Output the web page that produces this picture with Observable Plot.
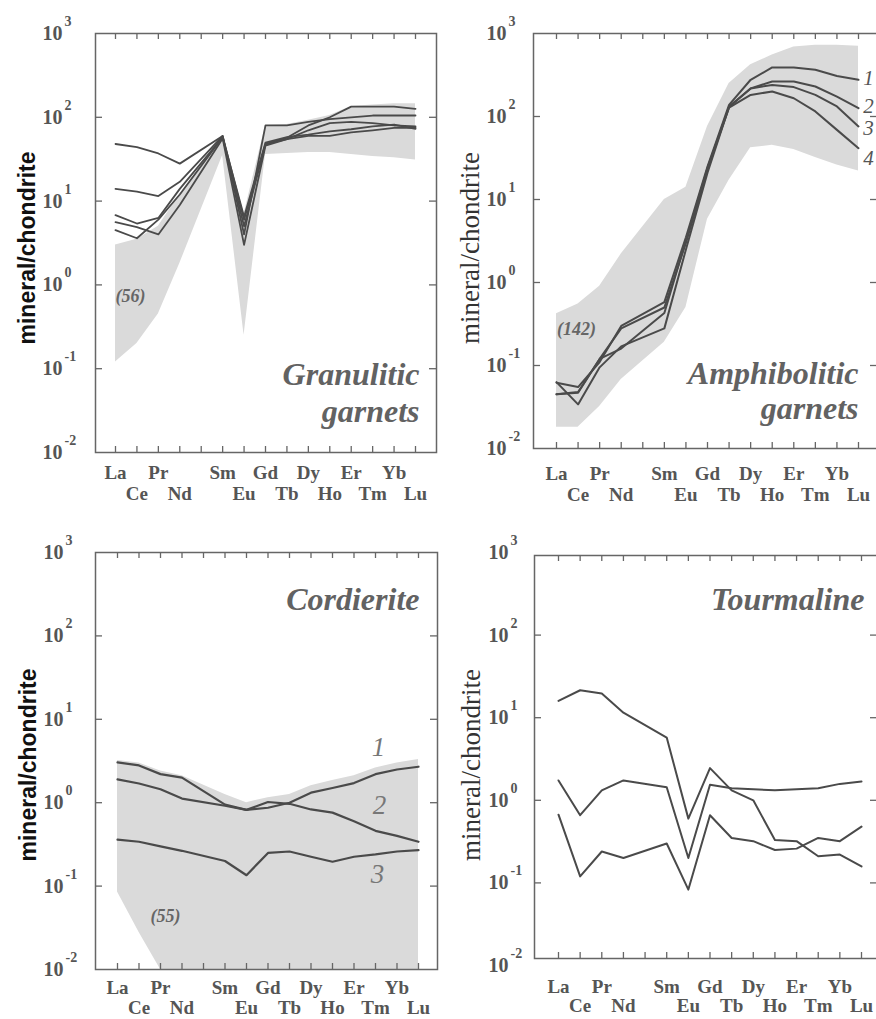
<!DOCTYPE html>
<html>
<head>
<meta charset="utf-8">
<script src="https://cdn.jsdelivr.net/npm/d3@7"></script>
<script src="https://cdn.jsdelivr.net/npm/@observablehq/plot@0.6"></script>
<style>
  html, body { margin: 0; padding: 0; background: #fff; overflow: hidden; }
  #root { position: relative; width: 876px; height: 1019px; overflow: hidden; background: #fff; }
  .panel { position: absolute; }
  .panel svg { max-width: none; overflow: visible; }
  g[aria-label="panel-title"] text { letter-spacing: 2px; }
  g[aria-label="ree-label"] text { letter-spacing: 1.2px; }
</style>
</head>
<body>
<div id="root"></div>
<script>
// ---------------- data ----------------
const ree = ["La","Ce","Pr","Nd","Pm","Sm","Eu","Gd","Tb","Dy","Ho","Er","Tm","Yb","Lu"];
const measured = ["La","Ce","Pr","Nd","Sm","Eu","Gd","Tb","Dy","Ho","Er","Tm","Yb","Lu"];
const labelRow1 = ["La","Pr","Sm","Gd","Dy","Er","Yb"];
const labelRow2 = ["Ce","Nd","Eu","Tb","Ho","Tm","Lu"];
const decades = [0.01, 0.1, 1, 10, 100, 1000];
const decadeExp = ["-2", "-1", "0", "1", "2", "3"];
const innerDecades = [0.1, 1, 10, 100];

// Granulitic garnets (56 analyses): envelope and individual patterns
const granLow  = [0.12, 0.2, 0.45, 1.8, 35, 0.25, 36, 37, 38, 38, 36, 34, 33, 31];
const granHigh = [3, 3.5, 5, 12, 58, 7, 80, 82, 92, 105, 135, 140, 145, 145];
const granA = [48, 44, 37, 28, 60, 6, 48, 57, 80, 100, 134, 134, 134, 126];
const granB = [14, 13, 11.5, 17, 60, 4, 80, 80, 88, 95, 100, 105, 105, 105];
const granC = [6.8, 5.4, 6.3, 14, 58, 5, 48, 55, 70, 85, 88, 85, 80, 78];
const granD = [5.6, 4.9, 4.0, 9, 56, 3, 46, 55, 60, 60, 66, 70, 75, 75];
const granE = [4.5, 3.6, 6, 12, 58, 6.5, 50, 58, 62, 68, 72, 78, 82, 73];

// Amphibolitic garnets (142 analyses)
const amphLow  = [0.018, 0.018, 0.032, 0.068, 0.19, 0.5, 5.8, 17, 42, 45, 40, 32, 26, 22];
const amphHigh = [0.42, 0.55, 0.9, 2.2, 10, 14, 76, 250, 420, 550, 690, 720, 720, 700];
const amph1 = [0.062, 0.055, 0.11, 0.3, 0.58, 3.5, 25, 138, 277, 390, 390, 365, 307, 277];
const amph2 = [0.045, 0.047, 0.12, 0.28, 0.5, 3, 23, 132, 218, 264, 264, 230, 174, 126];
const amph3 = [0.063, 0.034, 0.095, 0.17, 0.28, 2.5, 21, 130, 218, 240, 226, 182, 132, 76];
const amph4 = [0.045, 0.048, 0.12, 0.16, 0.43, 3.2, 24, 128, 182, 200, 166, 115, 69, 41.5];
const amphNames = ["1", "2", "3", "4"];

// Cordierite (55 analyses)
const cordLow  = [0.085, 0.028, 0.01, 0.01, 0.01, 0.01, 0.01, 0.01, 0.01, 0.01, 0.01, 0.01, 0.01, 0.01];
const cordHigh = [3.2, 3.0, 2.4, 2.1, 1.25, 1.0, 1.15, 1.25, 1.6, 1.85, 2.1, 2.6, 3.0, 3.3];
const cord1 = [3.05, 2.8, 2.2, 2.0, 0.95, 0.82, 0.87, 1.0, 1.32, 1.5, 1.72, 2.2, 2.5, 2.7];
const cord2 = [1.9, 1.7, 1.45, 1.12, 0.92, 0.82, 1.02, 0.97, 0.83, 0.76, 0.6, 0.46, 0.4, 0.34];
const cord3 = [0.36, 0.34, 0.3, 0.265, 0.2, 0.135, 0.25, 0.26, 0.225, 0.196, 0.225, 0.24, 0.26, 0.27];
const cordNames = ["1", "2", "3"];

// Tourmaline
const tour1 = [16, 21.5, 19.6, 11.5, 5.75, 0.6, 2.45, 1.32, 1.0, 0.33, 0.32, 0.21, 0.22, 0.158];
const tour2 = [1.74, 0.66, 1.32, 1.74, 1.44, 0.2, 1.54, 1.4, 1.36, 1.32, 1.36, 1.4, 1.58, 1.69];
const tour3 = [0.67, 0.12, 0.24, 0.2, 0.3, 0.083, 0.66, 0.35, 0.32, 0.25, 0.26, 0.35, 0.32, 0.48];

// ---------------- helpers ----------------
const SERIF = "'Liberation Serif', 'Times New Roman', serif";
const SANS = "'Liberation Sans', Arial, sans-serif";
const INK = "#555";
const LINE = "#4a4a4a";
const SHADE = "#dadada";

const xi = e => ree.indexOf(e);
function lineRows(list) {
  return list.flatMap((vals, s) => measured.map((e, i) => ({x: xi(e), y: vals[i], s})));
}
function envRows(lo, hi) {
  return measured.map((e, i) => ({x: xi(e), lo: lo[i], hi: hi[i]}));
}
function note(t, dx, dy, size, opts = {}) {
  return Plot.text([t], {frameAnchor: "top-left", textAnchor: "middle", lineAnchor: "middle", dx, dy,
    fontFamily: SERIF, fontSize: size, fontStyle: "italic", fill: "#666", ...opts});
}

function panel(cfg) {
  const {left, top, width, height, fl, fr, ft, fb, xr, yr} = cfg;
  const H = fb - ft, W = fr - fl;
  const marks = [];
  if (cfg.env) marks.push(Plot.areaY(envRows(cfg.env[0], cfg.env[1]), {x: "x", y1: "lo", y2: "hi", fill: SHADE, curve: "linear"}));
  marks.push(Plot.line(lineRows(cfg.series), {x: "x", y: "y", z: "s", stroke: LINE, strokeWidth: cfg.lw || 2, strokeLinejoin: "round"}));
  marks.push(Plot.frame({stroke: "#666", strokeWidth: 1.5}));
  const idx = ree.map((d, i) => i);
  marks.push(Plot.tickX(idx, {x: d => d, insetTop: H - 6, stroke: "#666", strokeWidth: 1.3}));
  marks.push(Plot.tickX(idx, {x: d => d, insetBottom: H - 6, stroke: "#666", strokeWidth: 1.3}));
  marks.push(Plot.tickY(innerDecades, {y: d => d, insetRight: W - 7, stroke: "#666", strokeWidth: 1.3}));
  marks.push(Plot.tickY(innerDecades, {y: d => d, insetLeft: W - 7, stroke: "#666", strokeWidth: 1.3}));
  // y tick labels 10^n
  marks.push(Plot.text(decades, {y: d => d, text: () => "10", frameAnchor: "left", textAnchor: "end", lineAnchor: "middle",
    dx: -cfg.yg, fontFamily: SERIF, fontSize: 20, fontWeight: "bold", fill: INK}));
  marks.push(Plot.text(decades, {y: d => d, text: (d, i) => decadeExp[i], frameAnchor: "left", textAnchor: "start", lineAnchor: "middle",
    dx: -cfg.yg + 2, dy: -12, fontFamily: SERIF, fontSize: 14, fontWeight: "bold", fill: INK}));
  // x tick labels (two rows)
  marks.push(Plot.text(labelRow1, {x: xi, text: d => d, frameAnchor: "bottom", lineAnchor: "middle", dy: cfg.r1,
    fontFamily: SERIF, fontSize: 19, fontWeight: "bold", fill: INK, ariaLabel: "ree-label"}));
  marks.push(Plot.text(labelRow2, {x: xi, text: d => d, frameAnchor: "bottom", lineAnchor: "middle", dy: cfg.r2,
    fontFamily: SERIF, fontSize: 19, fontWeight: "bold", fill: INK, ariaLabel: "ree-label"}));
  // y axis label
  marks.push(Plot.text(["mineral/chondrite"], {frameAnchor: "left", rotate: -90, lineAnchor: "middle", textAnchor: "middle",
    dx: cfg.ylab.dx, dy: cfg.ylab.dy, fontFamily: cfg.ylab.font, fontSize: cfg.ylab.size, fontWeight: cfg.ylab.weight,
    fill: cfg.ylab.fill}));
  // panel title
  marks.push(Plot.text([cfg.title], {frameAnchor: "top-right", textAnchor: "end", lineAnchor: "middle",
    dx: cfg.tdx, dy: cfg.tdy, lineHeight: cfg.tlh || 1.15, fontFamily: SERIF, fontSize: 32, fontStyle: "italic",
    fontWeight: "bold", fill: "#626262", ariaLabel: "panel-title"}));
  if (cfg.extra) marks.push(...cfg.extra);

  const svg = Plot.plot({
    width, height,
    marginLeft: fl, marginRight: width - fr, marginTop: ft, marginBottom: height - fb,
    x: {domain: [0, 14], range: xr, axis: null},
    y: {type: "log", domain: [0.01, 1000], range: yr, axis: null},
    style: {background: "transparent", overflow: "visible"},
    marks
  });
  const div = document.createElement("div");
  div.className = "panel";
  div.style.left = left + "px";
  div.style.top = top + "px";
  div.appendChild(svg);
  document.getElementById("root").appendChild(div);
}

const sansLabel = {font: SANS, size: 23, weight: "bold", fill: "#111"};
const serifLabel = {font: SERIF, size: 27, weight: "normal", fill: "#333"};

// Granulitic garnets
panel({
  left: 0, top: 0, width: 438, height: 500,
  fl: 95, fr: 436, ft: 33, fb: 452, xr: [115, 415], yr: [452, 33],
  env: [granLow, granHigh], series: [granA, granB, granC, granD, granE], lw: 1.8,
  yg: 33, r1: 20, r2: 41,
  ylab: {...sansLabel, dx: -68, dy: 5},
  title: "Granulitic\ngarnets", tdx: -17, tdy: 358, tlh: 1.17,
  extra: [note("(56)", 35, 263, 18, {fontWeight: "bold"})]
});

// Amphibolitic garnets
const amphEnds = [amph1, amph2, amph3, amph4].map((v, i) => ({x: xi("Lu"), y: v[v.length - 1], t: amphNames[i]}));
panel({
  left: 438, top: 0, width: 441, height: 500,
  fl: 95, fr: 439, ft: 33, fb: 448, xr: [118, 420], yr: [448, 33],
  env: [amphLow, amphHigh], series: [amph1, amph2, amph3, amph4], lw: 2,
  yg: 27, r1: 25, r2: 46,
  ylab: {...serifLabel, dx: -63, dy: 7},
  title: "Amphibolitic\ngarnets", tdx: -19, tdy: 357, tlh: 1.1,
  extra: [
    note("(142)", 43, 296, 18, {fontWeight: "bold"}),
    Plot.text(amphEnds.slice(0, 2), {x: "x", y: "y", text: "t", dx: 10, dy: -2, lineAnchor: "middle", fontFamily: SERIF,
      fontSize: 21, fontStyle: "italic", fill: "#555"}),
    Plot.text(amphEnds.slice(2, 3), {x: "x", y: "y", text: "t", dx: 10, dy: 2, lineAnchor: "middle", fontFamily: SERIF,
      fontSize: 21, fontStyle: "italic", fill: "#555"}),
    Plot.text(amphEnds.slice(3), {x: "x", y: "y", text: "t", dx: 10, dy: 10, lineAnchor: "middle", fontFamily: SERIF,
      fontSize: 21, fontStyle: "italic", fill: "#555"})
  ]
});

// Cordierite
panel({
  left: 0, top: 500, width: 438, height: 519,
  fl: 95, fr: 437, ft: 52, fb: 469, xr: [117, 418], yr: [469, 52],
  env: [cordLow, cordHigh], series: [cord1, cord2, cord3], lw: 2.2,
  yg: 32, r1: 18, r2: 38,
  ylab: {...sansLabel, dx: -67, dy: 4},
  title: "Cordierite", tdx: -18, tdy: 46,
  extra: [
    note("(55)", 70, 364, 18, {fontWeight: "bold"}),
    note(cordNames[0], 283, 195, 27, {fill: "#777"}),
    note(cordNames[1], 284, 253, 27, {fill: "#777"}),
    note(cordNames[2], 282, 322, 27, {fill: "#777"})
  ]
});

// Tourmaline
panel({
  left: 438, top: 500, width: 441, height: 519,
  fl: 96, fr: 439, ft: 55, fb: 458, xr: [120, 423], yr: [465, 52],
  env: null, series: [tour1, tour2, tour3], lw: 2,
  yg: 26, r1: 28, r2: 47,
  ylab: {...serifLabel, dx: -63, dy: 8},
  title: "Tourmaline", tdx: -13, tdy: 43
});
</script>
</body>
</html>
